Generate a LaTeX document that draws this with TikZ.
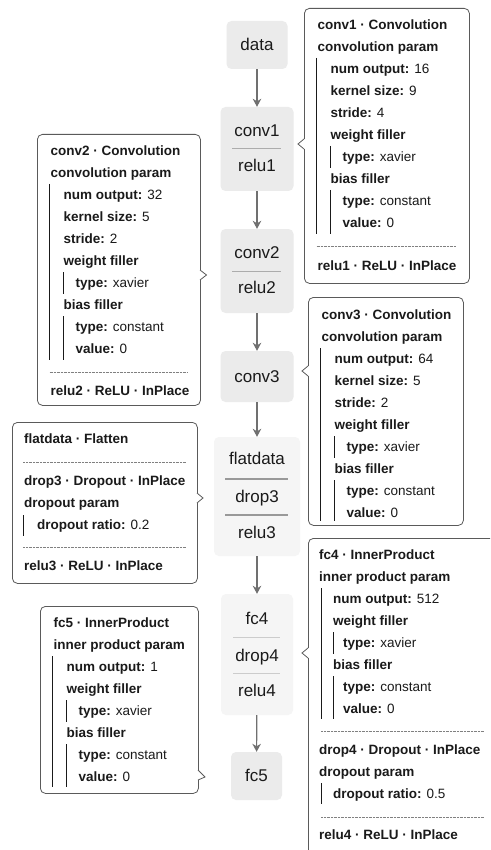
\documentclass[tikz,border=0pt]{standalone}
\usepackage{fontspec}
\setmainfont{Liberation Sans}
\usetikzlibrary{arrows.meta}
\definecolor{nodefill}{HTML}{EBEBEB}
\definecolor{grpfill}{HTML}{F5F5F5}
\definecolor{edgecol}{HTML}{707070}
\definecolor{cborder}{HTML}{5A5A5A}
\definecolor{txt}{HTML}{1A1A1A}
\tikzset{
  layer/.style={draw=none, fill=nodefill, rounded corners=5pt, inner sep=0pt,
    font=\fontsize{17}{20}\selectfont, text=txt, text height=11.5pt, text depth=0.5pt},
  group/.style={layer, fill=grpfill},
  lbl/.style={font=\fontsize{17}{20}\selectfont, text=txt, inner sep=0pt, anchor=base},
  flow/.style={draw=edgecol, line width=1.2pt, -{Stealth[length=8pt,width=8.5pt,inset=2.5pt]}},
  cbox/.style={draw=cborder, line width=0.8pt, fill=white, rounded corners=5pt, inner sep=0pt, anchor=north west},
  ct/.style={font=\fontsize{13.5}{16}\selectfont, text=txt, inner sep=0pt, anchor=base west},
  vbar/.style={draw=txt, line width=0.8pt},
  dotline/.style={draw=gray, line width=0.6pt, dash pattern=on 0.7pt off 0.7pt},
  divline/.style={draw=gray!65, line width=1pt},
  notch/.style={draw=cborder, line width=0.8pt, line join=miter},
}
\begin{document}
\begin{tikzpicture}[x=1pt,y=-1pt]
\useasboundingbox (0,0) rectangle (490,850);
\fill[white] (0,0) rectangle (490,850);
\clip (0,0) rectangle (490,850);

% ---------------- main column ----------------
\node[layer, minimum width=61pt, minimum height=48pt] (data) at (257,45) {data};

\node[layer, minimum width=73pt, minimum height=84pt] (g1) at (257,149) {};
\node[lbl] (conv1) at (257,136.5) {conv1};
\node[lbl] (relu1) at (257,171.5) {relu1};
\draw[divline] (232,149) -- (281,149);

\node[layer, minimum width=73pt, minimum height=84pt] (g2) at (257,271) {};
\node[lbl] (conv2) at (257,258.5) {conv2};
\node[lbl] (relu2) at (257,293.5) {relu2};
\draw[divline] (232,271) -- (281,271);

\node[layer, minimum width=73pt, minimum height=51pt] (conv3) at (257,376.5) {conv3};

\node[group, minimum width=86pt, minimum height=119pt] (g3) at (257,496.5) {};
\node[lbl] (flatdata) at (257,464.5) {flatdata};
\node[lbl] (drop3) at (257,502.5) {drop3};
\node[lbl] (relu3) at (257,538.5) {relu3};
\draw[divline, draw=gray!80, line width=1.5pt] (225,479) -- (288,479);
\draw[divline, draw=gray!80, line width=1.5pt] (225,515) -- (288,515);

\node[group, minimum width=72pt, minimum height=121pt] (g4) at (257,654.5) {};
\node[lbl] (fc4) at (257,624.5) {fc4};
\node[lbl] (drop4) at (257,661.5) {drop4};
\node[lbl] (relu4) at (257,696.5) {relu4};
\draw[divline, draw=gray!40] (233,637) -- (280,637);
\draw[divline, draw=gray!40] (233,673) -- (280,673);

\node[layer, minimum width=51pt, minimum height=48pt] (fc5) at (256.5,776) {fc5};

\draw[flow] (data) -- (g1);
\draw[flow] (g1) -- (g2);
\draw[flow] (g2) -- (conv3);
\draw[flow] (conv3) -- (g3);
\draw[flow] (g3) -- (g4);
\draw[flow] (g4) -- (fc5);

% ---------------- callout conv1 ----------------
\node[cbox, minimum width=165pt, minimum height=275pt] (c1) at (304,8) {};
\fill[white] (303.4,139) rectangle (304.6,149);
\draw[notch] (304,139) -- (298,144) -- (304,149);
\node[ct] (c1a) at (317.5,29.8) {\textbf{conv1 · Convolution}};
\node[ct] (c1b) at (317.5,51.8) {\textbf{convolution param}};
\node[ct] (c1c) at (330.5,73.8) {\textbf{num output:} 16};
\node[ct] (c1d) at (330.5,95.8) {\textbf{kernel size:} 9};
\node[ct] (c1e) at (330.5,117.8) {\textbf{stride:} 4};
\node[ct] (c1f) at (330.5,139.8) {\textbf{weight filler}};
\node[ct] (c1g) at (342.5,161.8) {\textbf{type:} xavier};
\node[ct] (c1h) at (330.5,183.8) {\textbf{bias filler}};
\node[ct] (c1i) at (342.5,205.8) {\textbf{type:} constant};
\node[ct] (c1j) at (342.5,227.8) {\textbf{value:} 0};
\draw[vbar] (316.5,58) -- (316.5,234);
\draw[vbar] (330,146) -- (330,168);
\draw[vbar] (330,190) -- (330,234);
\draw[dotline] (316.5,246) -- (456,246);
\node[ct] (c1k) at (317.5,270.8) {\textbf{relu1 · ReLU · InPlace}};

% ---------------- callout conv2 ----------------
\node[cbox, minimum width=163pt, minimum height=271pt] (c2) at (37,134) {};
\fill[white] (199.4,270) rectangle (200.6,280);
\draw[notch] (200,270) -- (206.5,275) -- (200,280);
\node[ct] (c2a) at (50.5,155.8) {\textbf{conv2 · Convolution}};
\node[ct] (c2b) at (50.5,177.8) {\textbf{convolution param}};
\node[ct] (c2c) at (63.5,199.8) {\textbf{num output:} 32};
\node[ct] (c2d) at (63.5,221.8) {\textbf{kernel size:} 5};
\node[ct] (c2e) at (63.5,243.8) {\textbf{stride:} 2};
\node[ct] (c2f) at (63.5,265.8) {\textbf{weight filler}};
\node[ct] (c2g) at (75.5,287.8) {\textbf{type:} xavier};
\node[ct] (c2h) at (63.5,309.8) {\textbf{bias filler}};
\node[ct] (c2i) at (75.5,331.8) {\textbf{type:} constant};
\node[ct] (c2j) at (75.5,353.8) {\textbf{value:} 0};
\draw[vbar] (49.5,184) -- (49.5,360);
\draw[vbar] (63,272) -- (63,294);
\draw[vbar] (63,316) -- (63,360);
\draw[dotline] (49.5,372) -- (187,372);
\node[ct] (c2k) at (50.5,395.8) {\textbf{relu2 · ReLU · InPlace}};

% ---------------- callout conv3 ----------------
\node[cbox, minimum width=155pt, minimum height=228pt] (c3) at (308,297) {};
\fill[white] (307.4,366) rectangle (308.6,376);
\draw[notch] (308,366) -- (302,371) -- (308,376);
\node[ct] (c3a) at (321.5,319.8) {\textbf{conv3 · Convolution}};
\node[ct] (c3b) at (321.5,341.8) {\textbf{convolution param}};
\node[ct] (c3c) at (334.5,363.8) {\textbf{num output:} 64};
\node[ct] (c3d) at (334.5,385.8) {\textbf{kernel size:} 5};
\node[ct] (c3e) at (334.5,407.8) {\textbf{stride:} 2};
\node[ct] (c3f) at (334.5,429.8) {\textbf{weight filler}};
\node[ct] (c3g) at (346.5,451.8) {\textbf{type:} xavier};
\node[ct] (c3h) at (334.5,473.8) {\textbf{bias filler}};
\node[ct] (c3i) at (346.5,495.8) {\textbf{type:} constant};
\node[ct] (c3j) at (346.5,517.8) {\textbf{value:} 0};
\draw[vbar] (320.5,348) -- (320.5,521);
\draw[vbar] (334,436) -- (334,458);
\draw[vbar] (334,480) -- (334,521);

% ---------------- callout flatdata ----------------
\node[cbox, minimum width=185pt, minimum height=161pt] (c4) at (12,422) {};
\fill[white] (196.4,493) rectangle (197.6,503);
\draw[notch] (197,493) -- (203,498) -- (197,503);
\node[ct] (c4a) at (24,443.8) {\textbf{flatdata · Flatten}};
\draw[dotline] (23,462) -- (186,462);
\node[ct] (c4b) at (24,485.8) {\textbf{drop3 · Dropout · InPlace}};
\node[ct] (c4c) at (24,507.8) {\textbf{dropout param}};
\node[ct] (c4d) at (37,529.8) {\textbf{dropout ratio:} 0.2};
\draw[vbar] (23,515) -- (23,536);
\draw[dotline] (23,547) -- (186,547);
\node[ct] (c4e) at (24,570.8) {\textbf{relu3 · ReLU · InPlace}};

% ---------------- callout fc5 ----------------
\node[cbox, minimum width=158pt, minimum height=187pt] (c5) at (40,606) {};
\fill[white] (197.4,770) rectangle (198.6,780);
\draw[notch] (198,770) -- (205,777) -- (198,780);
\node[ct] (c5a) at (53.5,627.8) {\textbf{fc5 · InnerProduct}};
\node[ct] (c5b) at (53.5,649.8) {\textbf{inner product param}};
\node[ct] (c5c) at (66.5,671.8) {\textbf{num output:} 1};
\node[ct] (c5d) at (66.5,693.8) {\textbf{weight filler}};
\node[ct] (c5e) at (78.5,715.8) {\textbf{type:} xavier};
\node[ct] (c5f) at (66.5,737.8) {\textbf{bias filler}};
\node[ct] (c5g) at (78.5,759.8) {\textbf{type:} constant};
\node[ct] (c5h) at (78.5,781.8) {\textbf{value:} 0};
\draw[vbar] (52.5,656) -- (52.5,787);
\draw[vbar] (66,700) -- (66,722);
\draw[vbar] (66,744) -- (66,787);

% ---------------- callout fc4 ----------------
\node[cbox, minimum width=200pt, minimum height=340pt] (c6) at (308,538) {};
\fill[white] (307.4,648) rectangle (308.6,658);
\draw[notch] (308,648) -- (302,653) -- (308,658);
\node[ct] (c6a) at (319,559.8) {\textbf{fc4 · InnerProduct}};
\node[ct] (c6b) at (319,581.8) {\textbf{inner product param}};
\node[ct] (c6c) at (333,603.8) {\textbf{num output:} 512};
\node[ct] (c6d) at (333,625.8) {\textbf{weight filler}};
\node[ct] (c6e) at (343,647.8) {\textbf{type:} xavier};
\node[ct] (c6f) at (333,669.8) {\textbf{bias filler}};
\node[ct] (c6g) at (343,691.8) {\textbf{type:} constant};
\node[ct] (c6h) at (343,713.8) {\textbf{value:} 0};
\draw[vbar] (321,588) -- (321,719);
\draw[vbar] (333.5,632) -- (333.5,654);
\draw[vbar] (333.5,676) -- (333.5,719);
\draw[dotline] (321,731) -- (484,731);
\node[ct] (c6i) at (319,754.8) {\textbf{drop4 · Dropout · InPlace}};
\node[ct] (c6j) at (319,776.8) {\textbf{dropout param}};
\node[ct] (c6k) at (333,798.8) {\textbf{dropout ratio:} 0.5};
\draw[vbar] (321,783) -- (321,804);
\draw[dotline] (321,817) -- (484,817);
\node[ct] (c6l) at (319,839.8) {\textbf{relu4 · ReLU · InPlace}};
\end{tikzpicture}
\end{document}
